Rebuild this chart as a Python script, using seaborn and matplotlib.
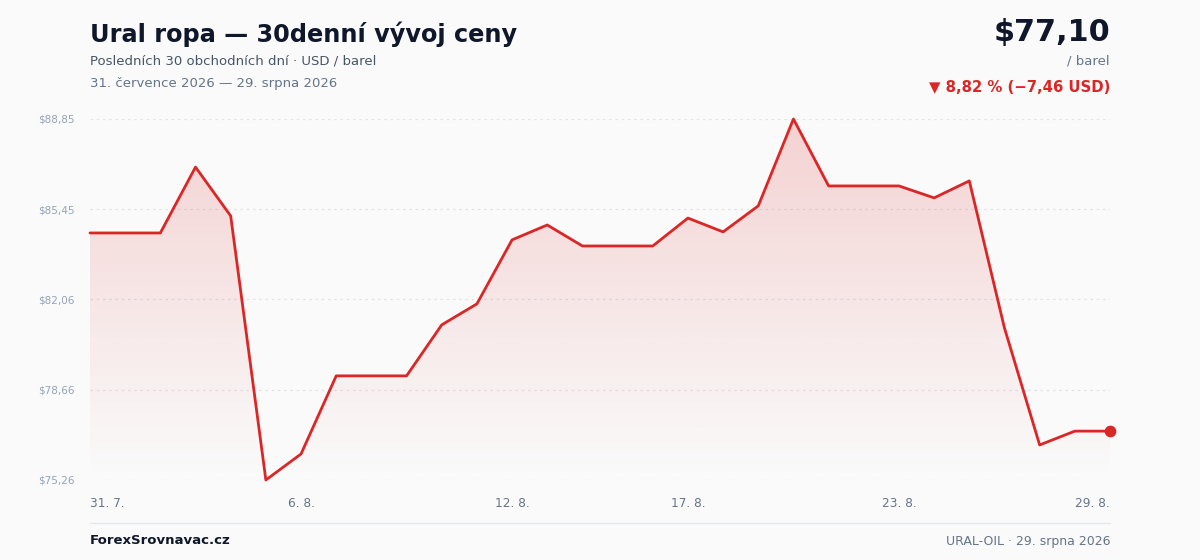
import numpy as np
import pandas as pd
import matplotlib
matplotlib.use("Agg")
import matplotlib.pyplot as plt
import seaborn as sns
from matplotlib.patches import Polygon

# ---- data ----
dates = ["31. 7.", "1. 8.", "2. 8.", "3. 8.", "4. 8.", "5. 8.", "6. 8.", "7. 8.", "8. 8.", "9. 8.",
         "10. 8.", "11. 8.", "12. 8.", "13. 8.", "14. 8.", "15. 8.", "16. 8.", "17. 8.", "18. 8.", "19. 8.",
         "20. 8.", "21. 8.", "22. 8.", "23. 8.", "24. 8.", "25. 8.", "26. 8.", "27. 8.", "28. 8.", "29. 8."]
prices = [84.56, 84.56, 84.56, 87.04, 85.20, 75.26, 76.24, 79.18, 79.18, 79.18,
          81.10, 81.89, 84.30, 84.86, 84.07, 84.07, 84.07, 85.12, 84.60, 85.58,
          88.85, 86.33, 86.33, 86.33, 85.88, 86.52, 80.98, 76.58, 77.10, 77.10]
xtick_idx = [0, 6, 12, 17, 23, 29]
ytick_vals = [75.26, 78.66, 82.06, 85.45, 88.85]

title = "Ural ropa — 30denní vývoj ceny"
subtitle = "Posledních 30 obchodních dní · USD / barel"
daterange = "31. července 2026 — 29. srpna 2026"
price_label = "$77,10"
unit_label = "/ barel"
change_label = "▼ 8,82 % (−7,46 USD)"
brand = "ForexSrovnavac.cz"
footer_right = "URAL-OIL · 29. srpna 2026"

df = pd.DataFrame({"i": np.arange(len(prices)), "price": prices})

sns.set_theme(style="white")
plt.rcParams["font.family"] = ["DejaVu Sans"]

BG = "#fafafa"
RED = "#dc2626"
W, H = 1200, 560
fig = plt.figure(figsize=(12, 5.6), dpi=100, facecolor=BG)

def fx(px): return px / W
def fy(py): return 1 - py / H

ax = fig.add_axes([fx(90), fy(480), fx(1110) - fx(90), fy(119) - fy(480)])
ax.set_facecolor(BG)
ymin, ymax = min(ytick_vals), max(ytick_vals)
ax.set_xlim(0, len(prices) - 1)
ax.set_ylim(ymin, ymax)

# gradient fill under line
grad = np.linspace(0.0, 1.0, 512).reshape(-1, 1)
rgba = np.zeros((512, 1, 4))
rgba[..., :3] = matplotlib.colors.to_rgb(RED)
rgba[..., 3] = 0.19 * grad
im = ax.imshow(rgba, extent=[0, len(prices) - 1, ymin, ymax], origin="lower",
               aspect="auto", zorder=1, interpolation="bilinear")
verts = [(0, ymin)] + list(zip(df["i"], df["price"])) + [(len(prices) - 1, ymin)]
poly = Polygon(verts, closed=True, facecolor="none", edgecolor="none")
ax.add_patch(poly)
im.set_clip_path(poly)

# grid
for v in ytick_vals:
    ax.axhline(v, color="#dfe3e8", lw=0.9, ls=(0, (2, 3)), zorder=0)

sns.lineplot(data=df, x="i", y="price", ax=ax, color=RED, lw=2, zorder=3, clip_on=False)
ax.scatter([df["i"].iloc[-1]], [df["price"].iloc[-1]], s=55, color=RED, zorder=4, clip_on=False)

for s in ax.spines.values():
    s.set_visible(False)
ax.set_xlabel("")
ax.set_ylabel("")
ax.set_yticks(ytick_vals)
ax.set_yticklabels([f"${v:.2f}".replace(".", ",") for v in ytick_vals], color="#94a3b8", fontsize=7.5)
ax.tick_params(axis="y", length=0, pad=11)
ax.set_xticks(xtick_idx)
ax.set_xticklabels([dates[i] for i in xtick_idx], color="#64748b", fontsize=8.7)
ax.tick_params(axis="x", length=0, pad=12)
lbls = ax.get_xticklabels()
lbls[0].set_horizontalalignment("left")
lbls[-1].set_horizontalalignment("right")

# header texts
fig.text(fx(90), fy(34), title, fontsize=17.3, fontweight="bold", color="#0f172a", va="center", ha="left")
fig.text(fx(90), fy(61), subtitle, fontsize=9.5, color="#475569", va="center", ha="left")
fig.text(fx(90), fy(83), daterange, fontsize=9.5, color="#64748b", va="center", ha="left")
fig.text(fx(1110), fy(33), price_label, fontsize=21.8, fontweight="bold", color="#0f172a", va="center", ha="right")
fig.text(fx(1110), fy(61), unit_label, fontsize=9.5, color="#64748b", va="center", ha="right")
fig.text(fx(1110), fy(87), change_label, fontsize=10.7, fontweight="bold", color=RED, va="center", ha="right")

# footer
fig.add_artist(plt.Line2D([fx(90), fx(1110)], [fy(523), fy(523)], color="#e5e7eb", lw=1))
fig.text(fx(90), fy(541), brand, fontsize=9.5, fontweight="bold", color="#0f172a", va="center", ha="left")
fig.text(fx(1110), fy(541), footer_right, fontsize=9, color="#64748b", va="center", ha="right")

fig.savefig("out.png", dpi=100, facecolor=BG)
